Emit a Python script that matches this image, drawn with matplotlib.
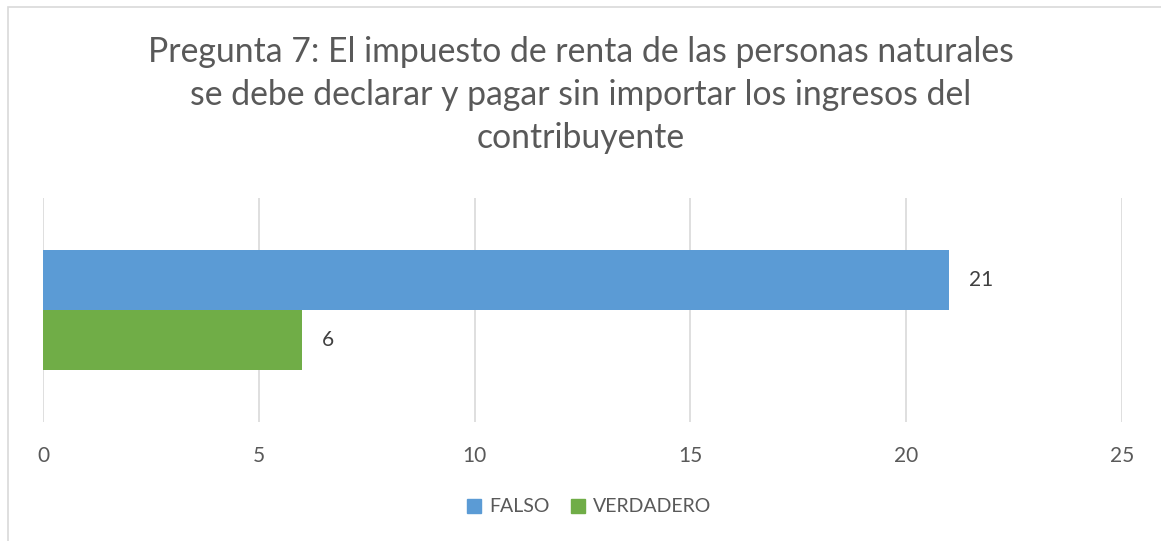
import matplotlib
matplotlib.use("Agg")
import matplotlib.pyplot as plt
from matplotlib.patches import Rectangle, Patch

series = ["FALSO", "VERDADERO"]
values = [21, 6]
colors = ["#5B9BD5", "#70AD47"]
xticks = [0, 5, 10, 15, 20, 25]
title = ("Pregunta 7: El impuesto de renta de las personas naturales\n"
         "se debe declarar y pagar sin importar los ingresos del\n"
         "contribuyente")

plt.rcParams['font.family'] = ['Lato', 'DejaVu Sans']
W, H = 1161, 541
fig = plt.figure(figsize=(W / 100, H / 100), dpi=100)

# outer border (chart area)
fig.patches.append(Rectangle((8 / W, -0.1), 1.2, (H - 7) / H + 0.1, transform=fig.transFigure,
                             fill=False, edgecolor="#D9D9D9", linewidth=1.2))

ax = fig.add_axes([43 / W, (H - 422) / H, (1122 - 43) / W, (422 - 198) / H])
ax.set_xlim(0, 25)
ax.set_ylim(-0.5, 0.5)
bh = 0.266
ax.barh([bh / 2], [values[0]], height=bh, color=colors[0], label=series[0])
ax.barh([-bh / 2], [values[1]], height=bh, color=colors[1], label=series[1])
for v, y in zip(values, [bh / 2, -bh / 2]):
    ax.text(v + 0.45, y, str(v), va="center", ha="left", fontsize=15, color="#404040")

ax.set_xticks(xticks)
ax.set_yticks([])
ax.grid(axis="x", color="#D9D9D9", linewidth=1.2)
ax.set_axisbelow(True)
for s in ax.spines.values():
    s.set_visible(False)
ax.tick_params(axis="x", length=0, pad=17, labelsize=15, labelcolor="#595959")

fig.text(0.5, 1 - 36 / H, title, ha="center", va="top", fontsize=24.3, color="#595959",
         linespacing=1.42)

handles = [Patch(color=c, label=s) for c, s in zip(colors, series)]
fig.legend(handles=handles, loc="center", bbox_to_anchor=(589 / W, 1 - 507 / H), ncol=2,
           frameon=False, fontsize=14, handlelength=0.75, handleheight=0.75, handletextpad=0.4,
           columnspacing=1.1, labelcolor="#595959")

fig.savefig("out.png", dpi=100)
